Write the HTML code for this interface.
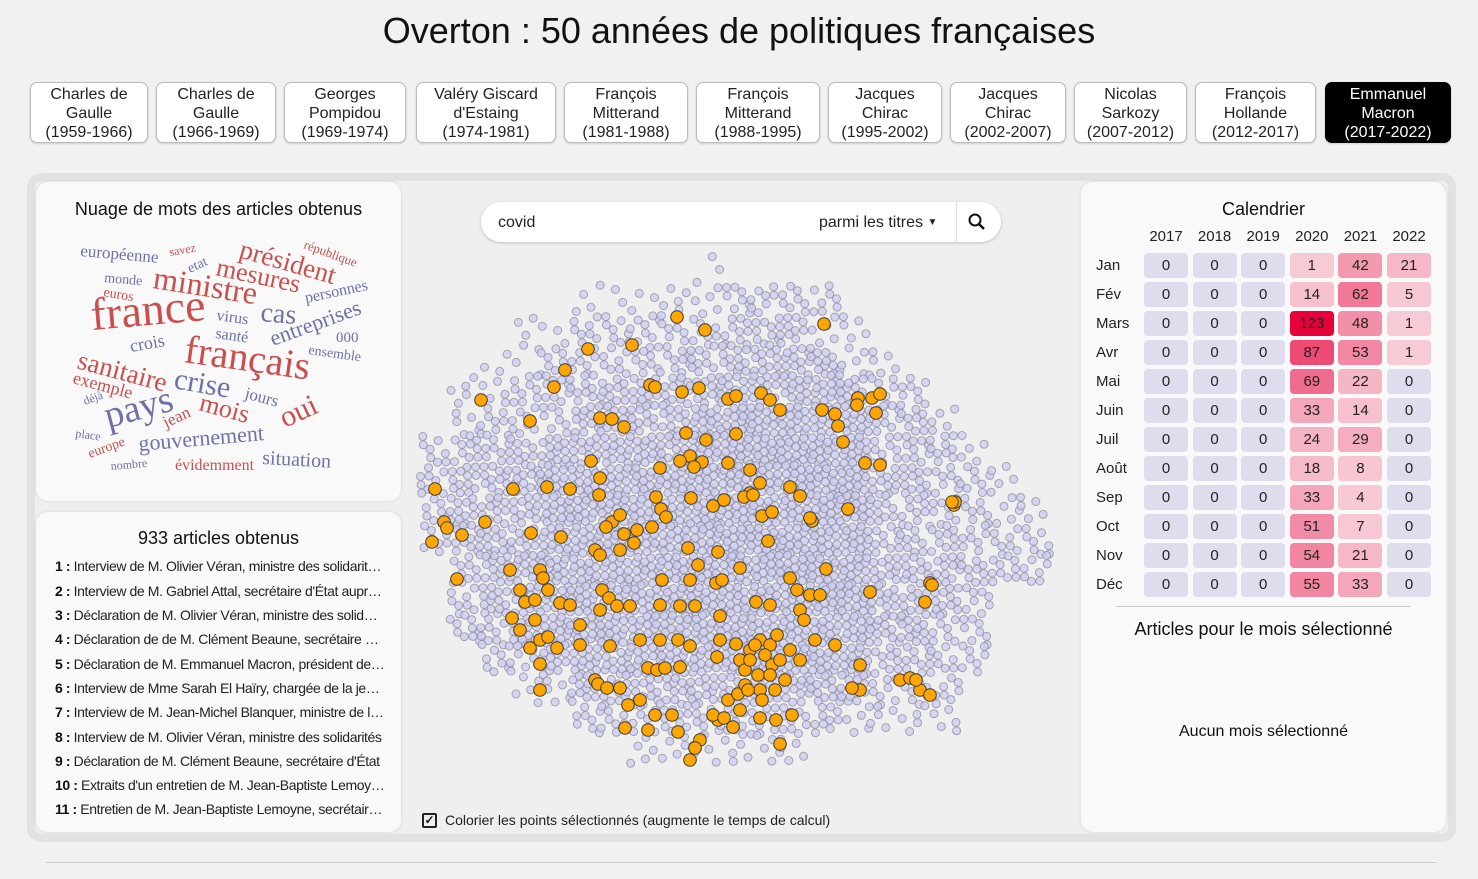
<!DOCTYPE html>
<html><head><meta charset="utf-8">
<style>
*{box-sizing:border-box;margin:0;padding:0}
body{width:1478px;height:879px;background:#f1f1f1;font-family:"Liberation Sans",sans-serif;color:#111;position:relative;overflow:hidden}
.abs{position:absolute}
h1{position:absolute;left:0;width:1478px;top:10px;text-align:center;font-weight:normal;font-size:36px;color:#111}
.btn{position:absolute;top:82px;height:61px;background:#fff;border:1px solid #bbb;border-radius:7px;text-align:center;font-size:16px;line-height:19px;padding-top:2px;color:#222;box-shadow:0 1px 2px rgba(0,0,0,.15)}
.btn.act{background:#000;color:#fff;border-color:#000}
#frame{left:27px;top:173px;width:1429px;height:669px;background:#efefef;border:8px solid #e2e2e2;border-radius:14px}
.panel{position:absolute;background:#f9f9f9;border-radius:12px;box-shadow:0 0 3px rgba(0,0,0,.12)}
.ptitle{position:absolute;width:100%;text-align:center;font-size:18px;color:#111}
.art{position:absolute;left:19px;width:330px;font-size:14px;white-space:nowrap;overflow:hidden;text-overflow:ellipsis;letter-spacing:-0.4px;color:#222}
.art b{font-weight:bold;color:#111}
#search{left:481px;top:202px;width:520px;height:40px;background:#fff;border-radius:20px;box-shadow:0 1px 3px rgba(0,0,0,.2)}
.cal{font-size:15px;color:#222}
</style></head><body>
<h1>Overton : 50 années de politiques françaises</h1>

<div class="btn" style="left:30px;width:118px">Charles de<br>Gaulle<br>(1959-1966)</div>
<div class="btn" style="left:156px;width:120px">Charles de<br>Gaulle<br>(1966-1969)</div>
<div class="btn" style="left:284px;width:122px">Georges<br>Pompidou<br>(1969-1974)</div>
<div class="btn" style="left:416px;width:140px">Valéry Giscard<br>d'Estaing<br>(1974-1981)</div>
<div class="btn" style="left:564px;width:124px">François<br>Mitterand<br>(1981-1988)</div>
<div class="btn" style="left:696px;width:124px">François<br>Mitterand<br>(1988-1995)</div>
<div class="btn" style="left:828px;width:114px">Jacques<br>Chirac<br>(1995-2002)</div>
<div class="btn" style="left:950px;width:116px">Jacques<br>Chirac<br>(2002-2007)</div>
<div class="btn" style="left:1074px;width:113px">Nicolas<br>Sarkozy<br>(2007-2012)</div>
<div class="btn" style="left:1195px;width:121px">François<br>Hollande<br>(2012-2017)</div>
<div class="btn act" style="left:1325px;width:126px">Emmanuel<br>Macron<br>(2017-2022)</div>

<div id="frame" class="abs"></div>

<div class="panel" style="left:36px;top:182px;width:365px;height:319px">
  <div class="ptitle" style="top:17px">Nuage de mots des articles obtenus</div>
</div>
<svg class="abs" style="left:0;top:0" width="420" height="500" font-family="Liberation Serif, serif" id="wc"></svg>

<div class="panel" style="left:36px;top:512px;width:365px;height:320px">
  <div class="ptitle" style="top:16px">933 articles obtenus</div>
  <div class="art" style="top:46px"><b>1 :</b> Interview de M. Olivier Véran, ministre des solidarités et de la santé</div>
  <div class="art" style="top:71px"><b>2 :</b> Interview de M. Gabriel Attal, secrétaire d'État auprès du Premier ministre</div>
  <div class="art" style="top:95px"><b>3 :</b> Déclaration de M. Olivier Véran, ministre des solidarités</div>
  <div class="art" style="top:119px"><b>4 :</b> Déclaration de de M. Clément Beaune, secrétaire d'État</div>
  <div class="art" style="top:144px"><b>5 :</b> Déclaration de M. Emmanuel Macron, président de la République</div>
  <div class="art" style="top:168px"><b>6 :</b> Interview de Mme Sarah El Haïry, chargée de la jeunesse</div>
  <div class="art" style="top:192px"><b>7 :</b> Interview de M. Jean-Michel Blanquer, ministre de l'éducation</div>
  <div class="art" style="top:217px"><b>8 :</b> Interview de M. Olivier Véran, ministre des solidarités</div>
  <div class="art" style="top:241px"><b>9 :</b> Déclaration de M. Clément Beaune, secrétaire d'État</div>
  <div class="art" style="top:265px"><b>10 :</b> Extraits d'un entretien de M. Jean-Baptiste Lemoyne</div>
  <div class="art" style="top:289px"><b>11 :</b> Entretien de M. Jean-Baptiste Lemoyne, secrétaire d'État</div>
</div>

<div id="search" class="abs">
  <div class="abs" style="left:17px;top:12px;font-size:16px;color:#222">covid</div>
  <div class="abs" style="left:338px;top:12px;font-size:16px;color:#222">parmi les titres <span style="font-size:10px;position:relative;top:-2px">&#9660;</span></div>
  <div class="abs" style="left:475px;top:0;width:1px;height:40px;background:#ddd"></div>
  <svg class="abs" style="left:486px;top:10px" width="20" height="20"><circle cx="8" cy="8" r="5.5" fill="none" stroke="#111" stroke-width="2"/><line x1="12" y1="12" x2="17" y2="17" stroke="#111" stroke-width="2.4"/></svg>
</div>

<svg class="abs" id="scatter" style="left:410px;top:250px" width="665" height="540" viewBox="410 250 665 540"></svg>

<div class="abs" style="left:422px;top:813px;width:15px;height:15px;border:2px solid #222;border-radius:2px;font-size:12px;line-height:11px;text-align:center;font-weight:bold">&#10003;</div>
<div class="abs" style="left:445px;top:812px;font-size:14px;color:#222">Colorier les points sélectionnés (augmente le temps de calcul)</div>

<div class="panel" style="left:1081px;top:182px;width:365px;height:650px">
  <div class="ptitle" style="top:17px">Calendrier</div>
  <div class="abs" style="left:35px;top:424px;width:295px;height:1px;background:#ccc"></div>
  <div class="ptitle" style="top:437px">Articles pour le mois sélectionné</div>
  <div class="ptitle" style="top:541px;font-size:16px">Aucun mois sélectionné</div>
</div>
<div id="cal" class="abs cal" style="left:0;top:0"></div>

<div class="abs" style="left:46px;top:862px;width:1390px;height:1px;background:#ccc"></div>

<script>
// ---- calendar data ----
const calYears = [2017, 2018, 2019, 2020, 2021, 2022];
const calMonths = ["Jan","Fév","Mars","Avr","Mai","Juin","Juil","Août","Sep","Oct","Nov","Déc"];
const counts2017 = [0,0,0,0,0,0,0,0,0,0,0,0];
const counts2018 = [0,0,0,0,0,0,0,0,0,0,0,0];
const counts2019 = [0,0,0,0,0,0,0,0,0,0,0,0];
const counts2020 = [1,14,123,87,69,33,24,18,33,51,54,55];
const counts2021 = [42,62,48,53,22,14,29,8,4,7,21,33];
const counts2022 = [21,5,1,1,0,0,0,0,0,0,0,0];

// ---- word cloud data ----
const words = ["européenne","savez","président","république","etat","mesures","monde","ministre","euros","personnes","france","cas","virus","entreprises","santé","000","crois","ensemble","sanitaire","français","exemple","crise","jours","déjà","pays","mois","jean","oui","place","gouvernement","europe","situation","nombre","évidemment"];
const wordWeights = [17,12,27,13,14,26,14,32,14,16,46,28,16,22,16,15,18,14,27,40,18,30,17,12,38,26,17,30,12,22,14,20,12,16];

// ---- scatter data (t-SNE units) ----
const selX = [-6.3,-3.5,-10.8,8.4,-15.2,-17.5,-18.6,-9,-8.5,-5.8,-4.1,-1.2,-0.4,2.1,-0.4,3,4,8.2,9.5,11.8,11.7,13.2,14,13.6,-25.9,-21,-14,-14.9,-12.8,-11.6,-5.4,-3.4,-1.2,9.8,10.3,12.5,14,-5,-6,-3.8,-4.6,1,2,1,0.4,1.3,2.2,5,6,-14,-17,-19.3,-22.7,-30.5,-29.6,-29.3,-27.8,-25.5,-20.9,-17.9,-14.1,-12.8,-13.4,-12,-8,-7.9,-7.4,-10.3,-11.6,-10.6,-8.8,-8.4,-4.9,-2.7,-1.6,3.2,7.2,10.8,7,2.8,21.4,21.5,21.2,-30.8,-23,-20,-19.7,-14.5,-14,-12,-5.2,-4.2,-2.2,0,-7.8,-5,-2.4,-1.8,5,5.7,8.6,13,19,19.2,18.5,-28.3,-22,-21.5,-20.5,-19.2,-18,-17,-13.8,-13.1,-12.3,-11,-8,-6,-4.5,-2,1.6,3,7,8,6,6.4,-22.8,-22,-20.5,-20,-19.2,-18.3,-16,-13,-10,-8,-6.2,-5,-2,-6,-0.4,0,1,2,3,3.7,5,0.5,1.8,3.2,4.5,6,7.5,9.5,12,16,17,18,19,17.6,12,11.2,-14.5,-14.2,-13.3,-12,-9.2,-8.3,-7.5,-10,-8.5,-11.2,-11.5,-9.2,-6.8,-6.2,-4,-2.2,-2.7,-1.6,-0.7,-1.2,-0.2,2,0,2,3.6,4,5.2,0.5,-5,-4.5,-2.3,-20,-21,-14,-16,-20,1,2.5,1.5,3,4,0.8,2.2,3.5];
const selY = [19.3,18,16.5,18.6,16.1,14,12.3,12.5,12.3,11.8,12.2,11.1,11.4,11.7,7.6,11,10,10,9.6,11.2,10.5,11.2,11.6,9.7,11,8.9,9.2,4.9,9.1,8.3,7.7,7,4.7,8.4,6.8,4.7,4.5,5.4,4.9,4.8,4.3,4,2.7,1.7,1.3,1.5,-0.6,2.3,1.4,3.2,2.1,2.3,2.1,2.1,-1.2,-1.8,-2.5,-1.2,-2.3,-2.7,1.5,-1.2,-1.7,-0.5,4.2,0.1,-0.7,-2,-2.4,-3.3,-1.7,1.3,1.2,0.4,1,-0.2,-1.1,0.1,-0.8,-3.1,0.5,0.8,0.8,-3.2,-6,-6,-6.8,-4,-4.5,-4,-3.8,-5.5,-4.2,-5.8,-7,-7,-7.3,-7,-6.8,-8,-5.9,-8.2,-7.3,-7.5,-9.2,-6.9,-8,-9.2,-9,-8,-9.3,-9.5,-8,-8.8,-9.6,-9.6,-9.5,-9.6,-9.6,-10.6,-9.2,-9.5,-8.5,-8.5,-10,-11,-10.8,-12,-11,-13,-12.7,-13.8,-13.5,-13.6,-13,-13,-13,-13.6,-13,-15.7,-13.4,-15,-14,-13,-13.5,-12.5,-14,-16,-16.5,-15.5,-17,-15,-13,-13.5,-15.5,-17,-16.8,-18,-18.5,-17,-18,-17.8,-17,-17.4,-17.8,-17.8,-15.8,-16,-15.8,-19,-20.5,-19.5,-21.8,-22,-20.5,-22.2,-23,-21,-20.5,-20.8,-21.7,-19,-18.4,-18,-20,-20.8,-21,-23.4,-20.5,-17.5,-25,-23.8,-14.7,-15.4,-13.8,-10,-11.5,-18,-15,-14.5,-13.5,-16.5,-15,-18,-19,-18];
// density of all (unselected) documents, rows top→bottom, 22 columns of 3 units
const densityRows = [
"0000000001000000000000",
"0000011122333300000000",
"0001133333444220000000",
"0011333444555522000000",
"0224445555666663300000",
"0233355557777774420000",
"3444666668888884442000",
"4555777778888885533200",
"3555777778888884433220",
"3555777778888884443330",
"0466777778888885554430",
"0366677778888885553000",
"0447777777777775533000",
"0033666667777774433000",
"0002255555555553330000",
"0000033344444422220000",
"0000000222222000000000"];

const NS = "http://www.w3.org/2000/svg";

// ---- word cloud ----
(function(){
  const wc = document.getElementById('wc');
  const wx = [80,170,238,303,190,215,104,152,103,306,92,260,216,273,215,336,131,308,76,183,72,173,244,85,108,198,166,285,75,139,90,262,111,175];
  const wy = [256,256,257,248,273,275,282,288,296,303,330,321,320,346,338,342,352,354,368,362,383,388,398,405,428,410,428,428,437,451,458,464,470,470];
  const wr = [5,-10,16,20,-25,12,5,9,10,-12,-5,5,8,-20,8,0,-10,8,15,8,15,10,15,-20,-15,15,-25,-25,8,-5,-20,3,-5,0];
  const red = new Set(["savez","président","république","mesures","ministre","euros","france","sanitaire","français","exemple","mois","jean","oui","europe","évidemment"]);
  words.forEach((w,i)=>{
    const t = document.createElementNS(NS,'text');
    t.setAttribute('x',wx[i]); t.setAttribute('y',wy[i]);
    t.setAttribute('font-size',wordWeights[i]);
    t.setAttribute('fill', red.has(w)?'#c9504f':'#6e72a8');
    t.setAttribute('transform','rotate('+wr[i]+' '+wx[i]+' '+wy[i]+')');
    t.textContent = w;
    
    
    wc.appendChild(t);
  });
})();

// ---- scatter ----
(function(){
  const svg = document.getElementById('scatter');
  const sx = u => 740 + u*10;
  const sy = u => 510 - u*10;
  const gGray = document.createElementNS(NS,'g');
  
  
  svg.appendChild(gGray);
  const cellU = 3, x0U = -32, y0U = 25.5;
  densityRows.forEach((row,r)=>{
    for(let c=0;c<row.length;c++){
      const d = +row[c]; const n = Math.round(d*2.5);
      for(let k=0;k<n;k++){
        const idx = (r*22+c)*11 + k;
        const fx = (0.5 + idx*0.7548776662)%1;
        const fy = (0.5 + idx*0.5698402910)%1;
        const ux = x0U + (c+fx)*cellU;
        const uy = y0U - (r+fy)*cellU;
        const ci = document.createElementNS(NS,'circle');
        ci.setAttribute('cx',sx(ux).toFixed(1)); ci.setAttribute('cy',sy(uy).toFixed(1));
        ci.setAttribute('r',4);
        ci.setAttribute('fill','#cfcff5'); ci.setAttribute('stroke','#8e8e9e'); ci.setAttribute('stroke-width','1'); ci.setAttribute('opacity','0.8');
        gGray.appendChild(ci);
      }
    }
  });
  const gSel = document.createElementNS(NS,'g');
  
  
  svg.appendChild(gSel);
  selX.forEach((v,i)=>{
    const ci = document.createElementNS(NS,'circle');
    ci.setAttribute('cx',sx(v)); ci.setAttribute('cy',sy(selY[i]));
    ci.setAttribute('r',6.3);
    ci.setAttribute('fill','#ffa500'); ci.setAttribute('stroke','#3a3a3a'); ci.setAttribute('stroke-width','1');
    
    
    gSel.appendChild(ci);
  });
})();

// ---- calendar ----
(function(){
  const cal = document.getElementById('cal');
  const series = [counts2017,counts2018,counts2019,counts2020,counts2021,counts2022];
  const colX = i => 1166 + i*48.6;
  const rowY = j => 265 + j*29;
  const maxV = 123;
  function color(v){
    if(v===0) return '#dedded';
    const t = Math.pow((v-1)/(maxV-1),1.3);
    const a=[247,203,214], b=[232,0,60];
    return 'rgb('+a.map((x,k)=>Math.round(x+(b[k]-x)*t)).join(',')+')';
  }
  calYears.forEach((y,i)=>{
    const d = document.createElement('div');
    d.className='abs'; d.style.cssText='left:'+(colX(i)-25)+'px;top:228px;width:50px;text-align:center';
    d.textContent=y;
    
    
    cal.appendChild(d);
  });
  calMonths.forEach((m,j)=>{
    const d = document.createElement('div');
    d.className='abs'; d.style.cssText='left:1096px;top:'+(rowY(j)-8)+'px';
    d.textContent=m;
    
    
    cal.appendChild(d);
    series.forEach((s,i)=>{
      const c = document.createElement('div');
      c.className='abs';
      c.style.cssText='left:'+(colX(i)-22)+'px;top:'+(rowY(j)-12)+'px;width:44px;height:25px;border-radius:4px;text-align:center;line-height:25px;background:'+color(s[j]);
      c.textContent=s[j];
      
      
      cal.appendChild(c);
    });
  });
})();
</script>
</body></html>
